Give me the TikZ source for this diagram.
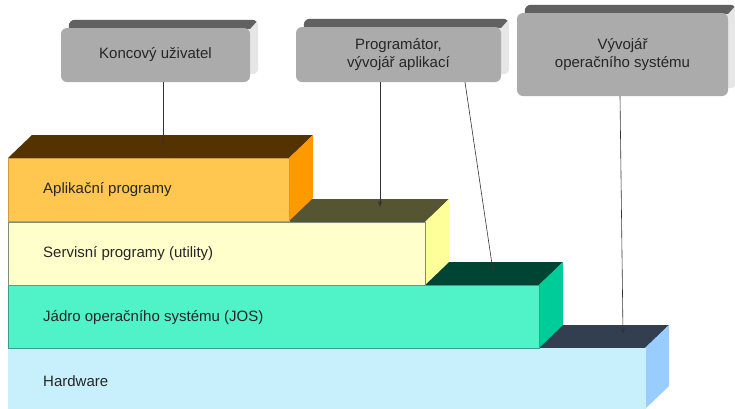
\documentclass[tikz,border=0pt]{standalone}
\usepackage{fontspec}
\setmainfont{Liberation Sans}
\usetikzlibrary{arrows.meta}
\definecolor{apF}{HTML}{FFC650}
\definecolor{apT}{HTML}{553300}
\definecolor{apS}{HTML}{FF9900}
\definecolor{apB}{HTML}{D09A40}
\definecolor{seF}{HTML}{FFFFCC}
\definecolor{seT}{HTML}{555533}
\definecolor{seS}{HTML}{FFFF99}
\definecolor{seB}{HTML}{7A8E7A}
\definecolor{joF}{HTML}{50F2C8}
\definecolor{joT}{HTML}{004433}
\definecolor{joS}{HTML}{00CC99}
\definecolor{joB}{HTML}{3C9C8A}
\definecolor{hwF}{HTML}{C8F0FC}
\definecolor{hwT}{HTML}{333F50}
\definecolor{hwS}{HTML}{99CCFF}
\definecolor{gFront}{HTML}{ABABAB}
\definecolor{gTop}{HTML}{616161}
\definecolor{gSide}{HTML}{E6E6E6}
\pgfdeclarelayer{back}
\pgfsetlayers{back,main}
\newcommand\stlayer[7]{%
  \fill[#5] (8,#1) -- (#3,#1) -- (#3+24,#1-23) -- (32,#1-23) -- cycle;
  \fill[#6] (#3,#1) -- (#3+24,#1-23) -- (#3+24,#2-23) -- (#3,#2) -- cycle;
  \filldraw[fill=#4,draw=#7,line width=0.7pt] (8,#1) rectangle (#3,#2);
}
\newcommand\gback[1]{%
  \begin{pgfonlayer}{back}
  \fill[gSide,rounded corners=6pt] ([shift={(8,-8)}]#1.north west) rectangle ([shift={(8,-8)}]#1.south east);
  \begin{scope}
  \clip[rounded corners=6pt] ([shift={(8,-8)}]#1.north west) rectangle ([shift={(8,-8)}]#1.south east);
  \fill[gTop] ([shift={(0,1)}]#1.north west) -- ++(8,-9) -- ([shift={(8,-8)}]#1.north east) -- ([shift={(0,1)}]#1.north east) -- cycle;
  \end{scope}
  \end{pgfonlayer}
}
\tikzset{
  lab/.style={anchor=west,font=\fontsize{15}{18}\selectfont,text=black!85,inner sep=0pt},
  gfront/.style={fill=gFront,rounded corners=6pt,align=center,font=\fontsize{15}{18}\selectfont,text=black!85,inner sep=0pt},
  arr/.style={draw=black!80,line width=0.6pt,-{Stealth[length=6pt,width=4pt]}}
}
\begin{document}
\begin{tikzpicture}[x=1pt,y=-1pt]
\useasboundingbox (0,0) rectangle (735,408);
\begin{scope}
\clip (0,0) rectangle (735,408);
\stlayer{348}{409}{645}{hwF}{hwT}{hwS}{hwF}
\stlayer{285}{348}{539}{joF}{joT}{joS}{joB}
\stlayer{222}{285}{425}{seF}{seT}{seS}{seB}
\stlayer{158}{221}{289}{apF}{apT}{apS}{apB}
\end{scope}
\node[lab] (hw) at (43,381) {Hardware};
\node[lab] (jo) at (43,318) {Jádro operačního systému (JOS)};
\node[lab] (se) at (43,254) {Servisní programy (utility)};
\node[lab] (ap) at (43,190) {Aplikační programy};
\node[gfront,minimum width=189pt,minimum height=54pt] (kon) at (155.5,55) {Koncový uživatel};
\node[gfront,minimum width=205pt,minimum height=55pt] (prog) at (398.5,54.5) {Programátor,\\vývojář aplikací};
\node[gfront,minimum width=211pt,minimum height=83pt] (vyv) at (622.5,54.5) {Vývojář\\operačního systému};
\gback{kon}
\gback{prog}
\gback{vyv}
\coordinate (t1) at (163,146);
\coordinate (t2) at (380,207);
\coordinate (t3) at (493,271);
\coordinate (t4) at (623,334);
\draw[arr] (t1 |- kon.south) -- (t1);
\draw[arr] (t2 |- prog.south) -- (t2);
\draw[arr] ([xshift=66.5pt]prog.south) -- (t3);
\draw[arr] ([xshift=-2.5pt]vyv.south) -- (t4);
\end{tikzpicture}
\end{document}
